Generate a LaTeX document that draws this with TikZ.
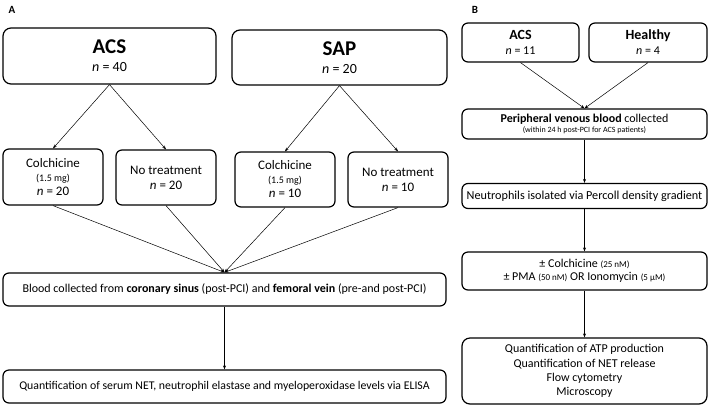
\documentclass[tikz,border=0pt]{standalone}
\usepackage{fontspec}
\setmainfont{Carlito}
\usetikzlibrary{arrows.meta}

\begin{document}
\begin{tikzpicture}[x=1pt,y=-1pt,>={Stealth[length=4pt,width=3pt]},
  box/.style={draw, line width=1.2pt, rounded corners=6pt, align=center, inner sep=0pt, font=\fontsize{13}{15}\selectfont},
  link/.style={->, line width=0.5pt}]
\useasboundingbox (0,0) rectangle (709,408);

% panel A
\node [font=\bfseries\fontsize{11}{13}\selectfont] (labA) at (12,10) {A};
\node [box, rounded corners=8pt, minimum width=213pt, minimum height=56pt, font=\fontsize{14}{16}\selectfont] (acsA) at (109.5,56) {{\fontsize{21}{23}\selectfont\bfseries ACS}\\[2pt]\textit{n} = 40};
\node [box, rounded corners=8pt, minimum width=215pt, minimum height=55pt, font=\fontsize{14}{16}\selectfont] (sapA) at (339.5,57.5) {{\fontsize{21}{23}\selectfont\bfseries SAP}\\[2pt]\textit{n} = 20};
\node [box, minimum width=100pt, minimum height=56pt] (colA1) at (53,177) {Colchicine\\[-1pt]{\fontsize{10}{11}\selectfont (1.5 mg)}\\[-1pt]\textit{n} = 20};
\node [box, minimum width=100pt, minimum height=55pt] (notA1) at (166,177.5) {No treatment\\\textit{n} = 20};
\node [box, minimum width=100pt, minimum height=55pt] (colA2) at (285,179.5) {Colchicine\\[-1pt]{\fontsize{10}{11}\selectfont (1.5 mg)}\\[-1pt]\textit{n} = 10};
\node [box, minimum width=100pt, minimum height=55pt] (notA2) at (398,179.5) {No treatment\\\textit{n} = 10};
\node [box, minimum width=443pt, minimum height=33pt, font=\fontsize{12}{14}\selectfont] (bloodA) at (224.5,289.5) {Blood collected from \textbf{coronary sinus} (post-PCI) and \textbf{femoral vein} (pre-and post-PCI)};
\node [box, minimum width=443pt, minimum height=33pt, font=\fontsize{11.8}{14}\selectfont] (quantA) at (224.5,386.5) {Quantification of serum NET, neutrophil elastase and myeloperoxidase levels via ELISA};

\draw [link] (acsA.south) -- (colA1.north);
\draw [link] (acsA.south) -- (notA1.north);
\draw [link] (sapA.south) -- (colA2.north);
\draw [link] (sapA.south) -- (notA2.north);
\draw [link] (colA1.south) -- (bloodA.north);
\draw [link] (notA1.south) -- (bloodA.north);
\draw [link] (colA2.south) -- (bloodA.north);
\draw [link] (notA2.south) -- (bloodA.north);
\draw [link] (bloodA.south) -- (quantA.north);

% panel B
\node [font=\bfseries\fontsize{11}{13}\selectfont] (labB) at (475,10) {B};
\node [box, minimum width=117pt, minimum height=39pt, font=\fontsize{12}{14}\selectfont] (acsB) at (520.5,42.5) {{\fontsize{14}{16}\selectfont\bfseries ACS}\\[1pt]\textit{n} = 11};
\node [box, minimum width=118pt, minimum height=39pt, font=\fontsize{12}{14}\selectfont] (healthyB) at (648,42.5) {{\fontsize{14}{16}\selectfont\bfseries Healthy}\\[1pt]\textit{n} = 4};
\node [box, minimum width=245pt, minimum height=30pt, font=\fontsize{12}{14}\selectfont] (periB) at (584.5,124) {\textbf{Peripheral venous blood} collected\\[-4pt]{\fontsize{8}{9}\selectfont (within 24 h post-PCI for ACS patients)}};
\node [box, minimum width=245pt, minimum height=25pt, font=\fontsize{12.2}{14}\selectfont] (neutB) at (584.5,196) {Neutrophils isolated via Percoll density gradient};
\node [box, minimum width=245pt, minimum height=38pt, font=\fontsize{12}{14}\selectfont] (colB) at (584.5,271) {± Colchicine {\fontsize{9}{10}\selectfont (25 nM)}\\[-1pt]± PMA {\fontsize{9}{10}\selectfont (50 nM)} OR Ionomycin {\fontsize{9}{10}\selectfont (5 μM)}};
\node [box, rounded corners=8pt, minimum width=245pt, minimum height=66pt, font=\fontsize{12}{14.3}\selectfont] (finalB) at (584.5,371) {Quantification of ATP production\\Quantification of NET release\\Flow cytometry\\Microscopy};

\draw [link] (acsB.south) -- (periB.north);
\draw [link] (healthyB.south) -- (periB.north);
\draw [link] (periB.south) -- (neutB.north);
\draw [link] (neutB.south) -- (colB.north);
\draw [link] (colB.south) -- (finalB.north);
\end{tikzpicture}
\end{document}
